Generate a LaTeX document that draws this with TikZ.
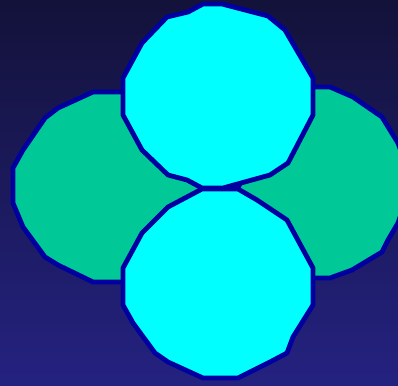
\documentclass[tikz,border=0pt]{standalone}
\definecolor{bgtop}{RGB}{19,18,58}
\definecolor{bgbot}{RGB}{36,34,128}
\definecolor{greenfill}{RGB}{0,200,150}
\definecolor{cyanfill}{RGB}{0,255,255}
\definecolor{edge}{RGB}{0,0,160}
\tikzset{
  blob/.style={draw=edge, line width=4.8pt, line join=round},
  greenblob/.style={blob, fill=greenfill},
  cyanblob/.style={blob, fill=cyanfill}
}
\begin{document}
\begin{tikzpicture}[x=1pt,y=-1pt]
\useasboundingbox (0,0) rectangle (398,385);
\clip (0,0) rectangle (398,385);
\shade[top color=bgtop, bottom color=bgbot] (0,0) rectangle (398,385);
% left green
\draw[greenblob] (93,92) -- (122,92) -- (160,92) -- (202,188) -- (160,284) -- (122,282) -- (93,282)
  -- (58,265) -- (45,257) -- (23,227) -- (13,203) -- (13,168) -- (23,150) -- (45,118) -- (58,108) -- cycle;
% right green
\draw[greenblob] (315,87) -- (330,87) -- (353,97) -- (382,117) -- (398,143) -- (406,165) -- (406,200)
  -- (398,223) -- (388,240) -- (382,252) -- (352,270) -- (330,278) -- (315,278) -- (280,282)
  -- (238,188) -- (280,92) -- cycle;
% top cyan
\draw[cyanblob] (203,4) -- (222,4) -- (268,16) -- (285,30) -- (313,78) -- (313,115) -- (288,163)
  -- (270,175) -- (223,188) -- (202,188) -- (187,180) -- (168,175) -- (142,150) -- (123,115)
  -- (123,78) -- (142,43) -- (167,17) -- (188,12) -- cycle;
% bottom cyan
\draw[cyanblob] (202,189) -- (238,189) -- (257,200) -- (287,220) -- (313,268) -- (313,305) -- (293,337)
  -- (287,353) -- (270,362) -- (238,378) -- (203,378) -- (168,362) -- (155,353) -- (133,323)
  -- (123,305) -- (123,268) -- (142,233) -- (168,207) -- cycle;
\end{tikzpicture}
\end{document}
